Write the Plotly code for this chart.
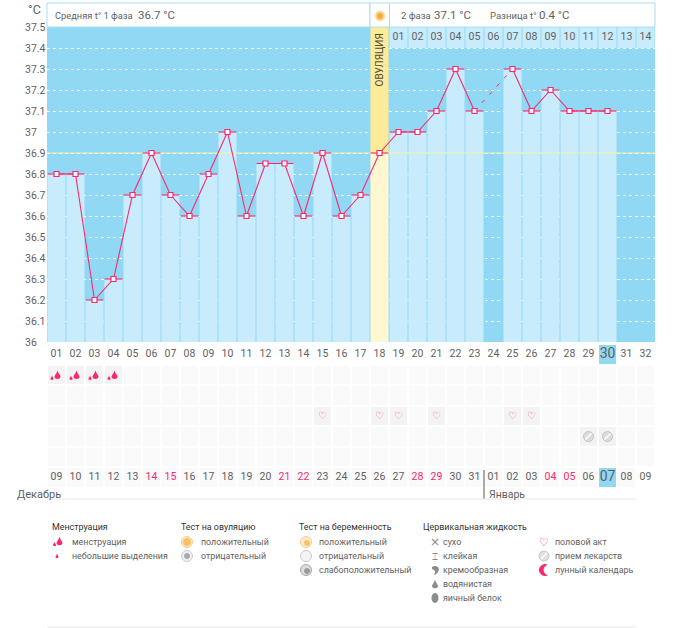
import plotly.graph_objects as go

W, H = 693, 628

# chart data
cycle_days = list(range(1, 33))
temps = [36.8, 36.8, 36.2, 36.3, 36.7, 36.9, 36.7, 36.6, 36.8, 37.0, 36.6, 36.85, 36.85, 36.6, 36.9, 36.6,
         36.7, 36.9, 37.0, 37.0, 37.1, 37.3, 37.1, None, 37.3, 37.1, 37.2, 37.1, 37.1, 37.1, None, None]
y_ticks = [36, 36.1, 36.2, 36.3, 36.4, 36.5, 36.6, 36.7, 36.8, 36.9, 37, 37.1, 37.2, 37.3, 37.4, 37.5]
dates = ["09", "10", "11", "12", "13", "14", "15", "16", "17", "18", "19", "20", "21", "22", "23", "24",
         "25", "26", "27", "28", "29", "30", "31", "01", "02", "03", "04", "05", "06", "07", "08", "09"]
weekend_dates = ["14", "15", "21", "22", "28", "29", "04", "05"]
phase2_days = list(range(19, 33))
phase2_labels = ["01", "02", "03", "04", "05", "06", "07", "08", "09", "10", "11", "12", "13", "14"]
ovulation_day = 18
cover_temp = 36.9
gap_days = [23, 25]
today = 30
flow_days = [1, 2, 3, 4]
sex_days = [15, 18, 19, 21, 25, 26]
pill_days = [29, 30]

PINK = "#f9296c"
SKY = "#91d8f5"
TEXT = "#5f5f5f"
FONT = "Roboto"


def fx(px):
    return px / W


def fy(py):
    return 1 - py / H


def note(px, py, text, size=10.5, color=TEXT, anchor="left", **kw):
    # annotations carry about 2px of padding on the left
    shift = 2 if anchor == "left" else 0
    return dict(xref="paper", yref="paper", x=fx(px - shift), y=fy(py), text=text, showarrow=False, xanchor=anchor,
                yanchor="middle", font=dict(family=FONT, size=size, color=color), **kw)


def rect(x0, y0, x1, y1, fill="rgba(0,0,0,0)", line=None):
    return dict(type="rect", xref="paper", yref="paper", x0=fx(x0), x1=fx(x1), y0=fy(y0), y1=fy(y1),
                fillcolor=fill, line=dict(color=line or fill, width=1), layer="above")


def hline(x0, x1, py, color="#e8e8e8"):
    return dict(type="line", xref="paper", yref="paper", x0=fx(x0), x1=fx(x1), y0=fy(py), y1=fy(py),
                line=dict(color=color, width=1), layer="above")


def icon_path(cx, cy, path, fill, line=None):
    return dict(type="path", path=path, xref="paper", yref="paper", xsizemode="pixel", ysizemode="pixel",
                xanchor=fx(cx), yanchor=fy(cy), fillcolor=fill, line=dict(color=line or fill, width=0),
                layer="above")


def circle(cx, cy, r, fill, line=None):
    return dict(type="circle", xref="paper", yref="paper", xsizemode="pixel", ysizemode="pixel",
                xanchor=fx(cx), yanchor=fy(cy), x0=-r, x1=r, y0=-r, y1=r, fillcolor=fill,
                line=dict(color=line or fill, width=1), layer="above")


def drop(dx, dy, r):
    return (f"M{dx},{dy + r * 2.1} C{dx + r * 0.3},{dy + r} {dx + r},{dy + r * 0.5} {dx + r},{dy} "
            f"C{dx + r},{dy - r} {dx - r},{dy - r} {dx - r},{dy} "
            f"C{dx - r},{dy + r * 0.5} {dx - r * 0.3},{dy + r} {dx},{dy + r * 2.1} Z")


def flow_icon(day):
    return dict(type="path", path=drop(1, -2, 3) + " " + drop(-4.5, -4, 1.6), xref="x2", yref="y2",
                xsizemode="pixel", ysizemode="pixel", xanchor=day, yanchor=1, fillcolor=PINK,
                line=dict(color=PINK, width=0), layer="above")


# event grid, one row per line of the diary
z = []
for row in range(7):
    cells = []
    for i, day in enumerate(cycle_days):
        if row == 0:
            cells.append(2 if day == today else None)
        elif row == 6:
            cells.append(2 if day == today else (0 if day < 32 else None))
        elif (row == 1 and day in flow_days) or (row == 3 and day in sex_days) or (row == 4 and day in pill_days):
            cells.append(1)
        else:
            cells.append(0)
    z.append(cells)

fig = go.Figure()

# temperature columns
fig.add_trace(go.Bar(x=cycle_days, y=[(36 if t is None else t) - 36 for t in temps], base=36, width=0.95,
                     marker=dict(color=["#fff7cf" if d == ovulation_day else "#c9ecfd" for d in cycle_days],
                                 line_width=0)))
fig.add_trace(go.Bar(x=[ovulation_day], y=[37.5 - cover_temp], base=cover_temp, width=0.95,
                     marker=dict(color="#fdeb98", line_width=0)))
fig.add_trace(go.Bar(x=phase2_days, y=[0.1] * len(phase2_days), base=37.4, width=0.95,
                     marker=dict(color="#c9ecfd", line_width=0)))
fig.add_trace(go.Scatter(x=[0.5, 32.5], y=[cover_temp, cover_temp], mode="lines",
                         line=dict(color="#f3f2a8", width=1)))

# temperature line
gap_temps = [temps[d - 1] for d in gap_days]
fig.add_trace(go.Scatter(x=gap_days, y=gap_temps, mode="lines", line=dict(color=PINK, width=1, dash="4px 7px")))
fig.add_trace(go.Scatter(x=cycle_days, y=temps, mode="lines+markers",
                         line=dict(color=PINK, width=1.1),
                         marker=dict(symbol="square", size=5, color="white", line=dict(color=PINK, width=1.2)),
                         error_x=dict(type="constant", value=0.47, color=PINK, thickness=1.1, width=0)))
fig.add_trace(go.Scatter(x=phase2_days, y=[37.45] * len(phase2_days), mode="text", text=phase2_labels,
                         textfont=dict(family=FONT, size=10.5, color=TEXT)))

# diary grid
fig.add_trace(go.Heatmap(x=cycle_days, y=list(range(7)), z=z, xgap=2, ygap=2, zmin=0, zmax=2, showscale=False,
                         colorscale=[[0, "#fafafb"], [0.5, "#f3f3f4"], [1, SKY]], xaxis="x2", yaxis="y2"))
fig.add_trace(go.Scatter(x=cycle_days, y=[0] * 32, mode="text", xaxis="x2", yaxis="y2",
                         text=[f"{d:02d}" for d in cycle_days],
                         textfont=dict(family=FONT, size=[14 if d == today else 10.5 for d in cycle_days],
                                       color=TEXT)))
fig.add_trace(go.Scatter(x=cycle_days, y=[6] * 32, mode="text", xaxis="x2", yaxis="y2", text=dates,
                         textfont=dict(family=FONT, size=[14 if d == today else 10.5 for d in cycle_days],
                                       color=[PINK if s in weekend_dates else TEXT for s in dates])))
fig.add_trace(go.Scatter(x=sex_days, y=[3] * len(sex_days), mode="text", xaxis="x2", yaxis="y2",
                         text=["<b>♡</b>"] * len(sex_days),
                         textfont=dict(family="DejaVu Sans", size=10, color="#fb3f7c")))
fig.add_trace(go.Scatter(x=pill_days, y=[4] * len(pill_days), mode="markers", xaxis="x2", yaxis="y2",
                         marker=dict(symbol="circle", size=10, color="#dcdcdc", line=dict(color="#c4c4c4", width=1))))
fig.add_trace(go.Scatter(x=pill_days, y=[4] * len(pill_days), mode="markers", xaxis="x2", yaxis="y2",
                         marker=dict(symbol="line-ne", size=6, line=dict(color="#ffffff", width=1.5))))

annotations = [note(28, 9, "°C", size=12.5)]
annotations += [dict(xref="paper", yref="y", x=fx(23), y=t, text=f"{t:g}", showarrow=False, xanchor="left",
                     yanchor="middle", font=dict(family=FONT, size=10.5, color=TEXT)) for t in y_ticks]
annotations += [
    note(55, 16, "Средняя t° 1 фаза", size=9.3), note(138, 15, "36.7 °C", size=11.5),
    note(401, 16, "2 фаза", size=9.5), note(434, 15, "37.1 °C", size=11.5),
    note(490, 16, "Разница t°", size=9.5), note(539, 15, "0.4 °C", size=11.5),
    note(379.5, 60, "ОВУЛЯЦИЯ", anchor="center", textangle=-90, color="#4f4f40", size=10),
    note(17, 494, "Декабрь", size=11), note(489, 494, "Январь", size=10.5),
]

# legend texts
HEAD = "#333333"
LS = 8.9
annotations += [
    note(52, 527, "Менструация", size=LS, color=HEAD),
    note(72, 542, "менструация", size=LS), note(72, 556, "небольшие выделения", size=LS),
    note(181, 527, "Тест на овуляцию", size=LS, color=HEAD),
    note(201, 542, "положительный", size=LS), note(201, 556, "отрицательный", size=LS),
    note(299, 527, "Тест на беременность", size=LS, color=HEAD),
    note(319, 542, "положительный", size=LS), note(319, 556, "отрицательный", size=LS),
    note(319, 570, "слабоположительный", size=LS),
    note(423, 527, "Цервикальная жидкость", size=LS, color=HEAD),
    note(443, 542, "сухо", size=LS), note(443, 556, "клейкая", size=LS),
    note(443, 570, "кремообразная", size=LS), note(443, 584, "водянистая", size=LS),
    note(443, 598, "яичный белок", size=LS),
    note(555, 542, "половой акт", size=LS), note(555, 556, "прием лекарств", size=LS),
    note(555, 570, "лунный календарь", size=LS),
    note(435, 542, "×", size=12, color="#888888", anchor="center"),
    note(435, 556, "⌶", size=10, color="#888888", anchor="center"),
    note(544, 542, "<b>♡</b>", size=11, color=PINK, anchor="center"),
]
for a in annotations:
    if a["text"] in ("<b>♡</b>", "⌶", "×"):
        a["font"]["family"] = "DejaVu Sans"

shapes = [
    # plot background, only behind the temperature panel
    dict(type="rect", xref="x domain", yref="y domain", x0=0, x1=1, y0=0, y1=1, fillcolor=SKY,
         line_width=0, layer="below"),
    # header strip above the plot
    rect(47, 3, 370, 27, "white", "#a5dff6"),
    rect(370, 3, 389.5, 27, "white", "#a5dff6"),
    rect(389.5, 3, 655, 27, "white", "#a5dff6"),
    circle(380, 16, 5, "#fbd38a", "#fde3b4"), circle(380, 16, 2.5, "#f7a83f"),
    # month break and rules
    dict(type="line", xref="paper", yref="paper", x0=fx(484), x1=fx(484), y0=fy(470), y1=fy(499),
         line=dict(color="#555555", width=1), layer="above"),
    hline(47, 636, 499), hline(47, 636, 627),
    # legend icons
    icon_path(59, 541, drop(0.5, -2, 3) + " " + drop(-4.5, -4, 1.6), PINK),
    icon_path(57, 556, drop(0, -1, 1.5), PINK),
    circle(187, 542, 5.5, "#fde7c2", "#f5cf93"), circle(187, 542, 3.5, "#f6c266"),
    circle(187, 556, 5.5, "#f0f0f0", "#cfcfcf"), circle(187, 556, 2.5, "#a8a8a8"),
    circle(306, 542, 5.5, "#fdeac9", "#f5cf93"), circle(307, 543, 2.5, "#f6c266"),
    circle(306, 556, 5.5, "#f4f4f4", "#c9c9c9"),
    circle(306, 570, 5.5, "#dcdcdc", "#a8a8a8"), circle(307, 571, 2.5, "#9a9a9a"),
    icon_path(435, 570, "M-3,3 C1,6 6,2 3,-2 C2,-4 0,-5 -1,-5 C1,-2 0,0 -3,1 Z", "#8c8c8c"),
    icon_path(435, 585, drop(0, -1, 3), "#8c8c8c"),
    dict(type="circle", xref="paper", yref="paper", xsizemode="pixel", ysizemode="pixel", xanchor=fx(435),
         yanchor=fy(598), x0=-3.5, x1=3.5, y0=-5, y1=5, fillcolor="#8c8c8c", line=dict(color="#8c8c8c", width=0),
         layer="above"),
    circle(544, 556, 5, "#e2e2e2", "#c8c8c8"),
    dict(type="line", xref="paper", yref="paper", xsizemode="pixel", ysizemode="pixel", xanchor=fx(544),
         yanchor=fy(556), x0=-3, x1=3, y0=-3, y1=3, line=dict(color="white", width=1.5), layer="above"),
    circle(545, 570, 5.5, PINK), circle(549, 570, 5, "white"),
]
shapes += [flow_icon(d) for d in flow_days]

fig.update_layout(
    width=W, height=H, margin=dict(l=0, r=0, t=0, b=0), showlegend=False, hovermode=False,
    paper_bgcolor="white", plot_bgcolor="white", barmode="overlay",
    xaxis=dict(domain=[fx(47), fx(655)], range=[0.5, 32.5], showgrid=False, zeroline=False,
               showticklabels=False, ticks=""),
    yaxis=dict(domain=[fy(342), fy(27)], range=[36, 37.5], tickvals=y_ticks, showticklabels=False,
               ticks="", zeroline=False, gridcolor="white", griddash="dot", gridwidth=1),
    xaxis2=dict(domain=[fx(47), fx(655)], range=[0.5, 32.5], anchor="y2", visible=False),
    yaxis2=dict(domain=[fy(488), fy(344)], range=[6.5, -0.5], anchor="x2", visible=False),
    annotations=annotations, shapes=shapes,
)

fig.write_html("out.html", config={"displayModeBar": False},
               post_script="document.body.style.margin='0';document.body.style.background='white';")
